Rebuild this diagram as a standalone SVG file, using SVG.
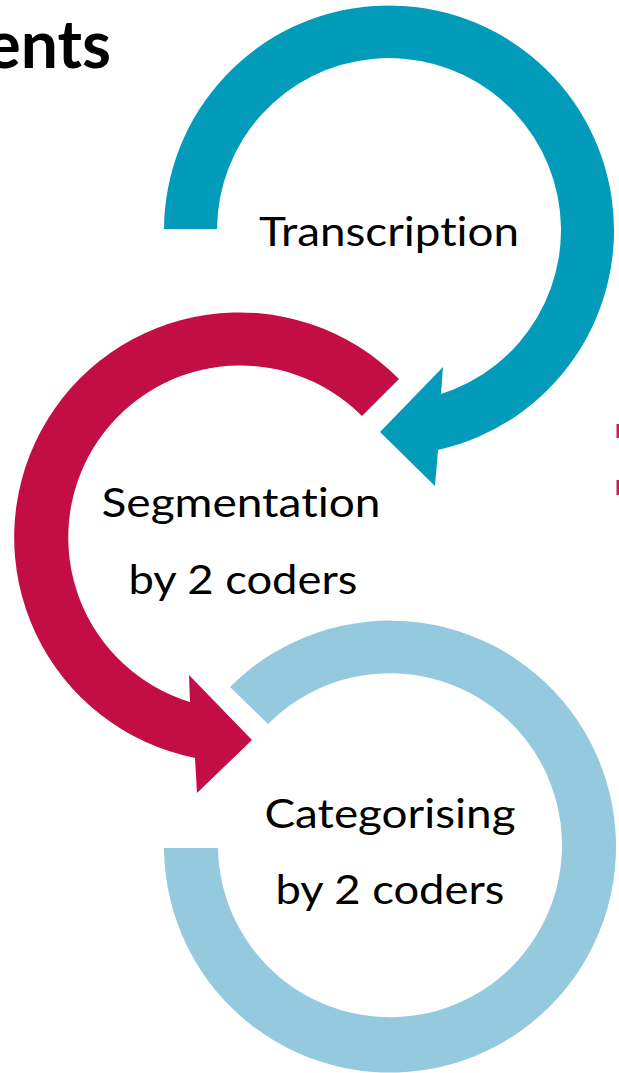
<svg xmlns="http://www.w3.org/2000/svg" width="619" height="1073" viewBox="0 0 619 1073">
<style>
.lbl{font-family:Lato,"Open Sans","Liberation Sans",sans-serif;font-size:41px;fill:#000;text-anchor:middle;font-variant-ligatures:none;font-feature-settings:"liga" 0}
.title{font-family:Lato,"Liberation Sans",sans-serif;font-size:66px;font-weight:bold;fill:#000;text-anchor:end}
.teal{fill:#029CBA}
.crimson{fill:#C30E45}
.light{fill:#95C9DD}
</style>
<rect width="619" height="1073" fill="#fff"/>
<text class="title" x="111" y="68">ents</text>
<g id="connectors">
<rect x="616.5" y="424" width="2.5" height="14" fill="#D21A5A"/>
<rect x="616.5" y="480" width="2.5" height="15" fill="#D21A5A"/>
</g>
<g id="transcription">
<path class="teal" d="M 164 229 A 225 225 0 1 1 438 450 L 435 486 L 380 432 L 443 367 L 441 394 A 172 172 0 1 0 217 229 Z"/>
<text class="lbl" x="389" y="246" textLength="260" lengthAdjust="spacingAndGlyphs">Transcription</text>
</g>
<g id="segmentation">
<path class="crimson" d="M 399 379 A 225 225 0 1 0 195 758 L 197 793 L 252 740 L 189 675 L 190 702 A 172 172 0 1 1 362 416 Z"/>
<text class="lbl" x="241" y="517" textLength="279" lengthAdjust="spacingAndGlyphs">Segmentation</text>
<text class="lbl" x="243" y="594" textLength="229" lengthAdjust="spacingAndGlyphs">by 2 coders</text>
</g>
<g id="categorising">
<path class="light" d="M 164 848 A 226 226 0 1 0 230 687 L 268 724 A 172 172 0 1 1 218 848 Z"/>
<text class="lbl" x="390" y="828" textLength="251" lengthAdjust="spacingAndGlyphs">Categorising</text>
<text class="lbl" x="390" y="904" textLength="229" lengthAdjust="spacingAndGlyphs">by 2 coders</text>
</g>
</svg>
